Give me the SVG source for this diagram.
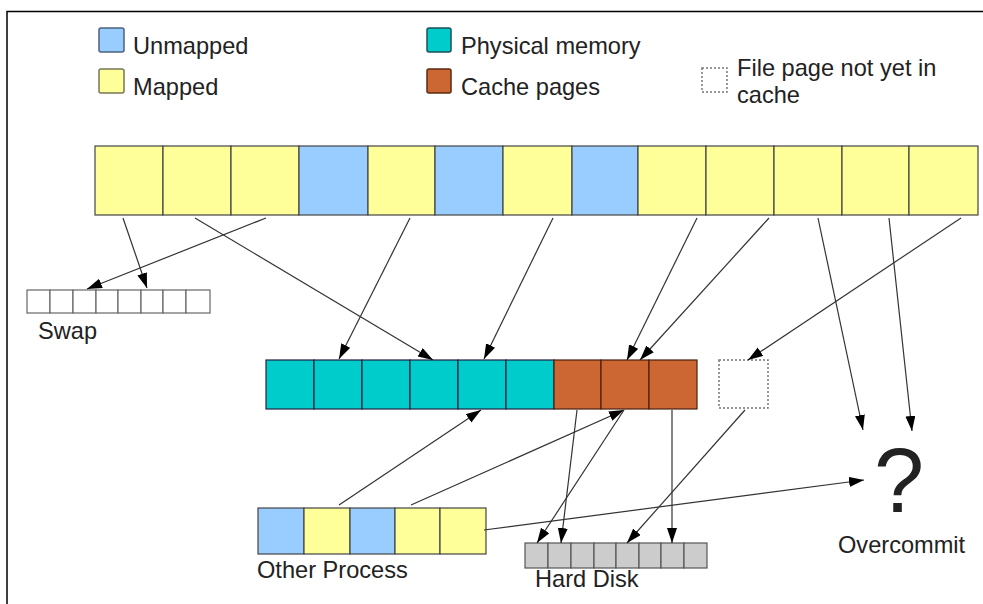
<svg xmlns="http://www.w3.org/2000/svg" width="983" height="604" viewBox="0 0 983 604">
<style>
  text { font-family: "Liberation Sans", Arial, sans-serif; font-size: 23.6px; fill: #222; }
  .y { fill: #ffff99; stroke: #444; stroke-width: 1.2; }
  .b { fill: #99ccff; stroke: #444; stroke-width: 1.2; }
  .t { fill: #00cccc; stroke: #224; stroke-width: 1.2; }
  .o { fill: #cc6633; stroke: #4a2010; stroke-width: 1.2; }
  .w { fill: #ffffff; stroke: #666; stroke-width: 1.2; }
  .g { fill: #cccccc; stroke: #555; stroke-width: 1.2; }
  .dot { fill: #ffffff; stroke: #777; stroke-width: 1.5; stroke-dasharray: 2 2; }
  .c line { stroke: #333; stroke-width: 1.2; fill: none; marker-end: url(#ah); }
</style>
<defs>
  <marker id="ah" markerUnits="userSpaceOnUse" markerWidth="16" markerHeight="11" refX="15" refY="5" orient="auto">
    <path d="M0,0 L15,5 L0,10 z" fill="#000"/>
  </marker>
</defs>
<rect width="983" height="604" fill="#fff"/>
<path d="M7,604 V11.5 H983" fill="none" stroke="#000" stroke-width="1.5"/>

<g id="legend-unmapped">
  <rect x="99" y="28" width="25" height="24" rx="2" fill="#99ccff" stroke="#4c6078" stroke-width="1.5"/>
  <text x="133" y="54">Unmapped</text>
</g>
<g id="legend-mapped">
  <rect x="99" y="69" width="25" height="24" rx="2" fill="#ffff99" stroke="#777755" stroke-width="1.5"/>
  <text x="133" y="95">Mapped</text>
</g>
<g id="legend-physical">
  <rect x="427" y="28" width="24" height="24" rx="2" fill="#00cccc" stroke="#1f4f55" stroke-width="1.5"/>
  <text x="461" y="54">Physical memory</text>
</g>
<g id="legend-cache">
  <rect x="427" y="69" width="24" height="24" rx="2" fill="#cc6633" stroke="#5a2a10" stroke-width="1.5"/>
  <text x="461" y="95">Cache pages</text>
</g>
<g id="legend-file">
  <rect x="702" y="68" width="25" height="24" class="dot"/>
  <text x="737" y="76">File page not yet in</text>
  <text x="737" y="103">cache</text>
</g>

<g id="process">
  <rect class="y" x="95" y="146" width="68" height="69"/>
  <rect class="y" x="163" y="146" width="68" height="69"/>
  <rect class="y" x="231" y="146" width="68" height="69"/>
  <rect class="b" x="299" y="146" width="69" height="69"/>
  <rect class="y" x="368" y="146" width="67" height="69"/>
  <rect class="b" x="435" y="146" width="68" height="69"/>
  <rect class="y" x="503" y="146" width="69" height="69"/>
  <rect class="b" x="572" y="146" width="66" height="69"/>
  <rect class="y" x="638" y="146" width="68" height="69"/>
  <rect class="y" x="706" y="146" width="68" height="69"/>
  <rect class="y" x="774" y="146" width="68" height="69"/>
  <rect class="y" x="842" y="146" width="67" height="69"/>
  <rect class="y" x="909" y="146" width="69" height="69"/>
</g>

<g id="swap">
  <rect class="w" x="27" y="290" width="23" height="23"/>
  <rect class="w" x="50" y="290" width="23" height="23"/>
  <rect class="w" x="73" y="290" width="23" height="23"/>
  <rect class="w" x="96" y="290" width="22" height="23"/>
  <rect class="w" x="118" y="290" width="23" height="23"/>
  <rect class="w" x="141" y="290" width="22" height="23"/>
  <rect class="w" x="163" y="290" width="23" height="23"/>
  <rect class="w" x="186" y="290" width="24" height="23"/>
  <text x="38" y="339">Swap</text>
</g>

<g id="physical-memory">
  <rect class="t" x="266" y="360" width="48" height="49"/>
  <rect class="t" x="314" y="360" width="48" height="49"/>
  <rect class="t" x="362" y="360" width="48" height="49"/>
  <rect class="t" x="410" y="360" width="48" height="49"/>
  <rect class="t" x="458" y="360" width="48" height="49"/>
  <rect class="t" x="506" y="360" width="48" height="49"/>
  <rect class="o" x="554" y="360" width="47" height="49"/>
  <rect class="o" x="601" y="360" width="48" height="49"/>
  <rect class="o" x="649" y="360" width="48" height="49"/>
</g>

<g id="file-page">
  <rect class="dot" x="719" y="360" width="49" height="48"/>
</g>

<g id="other-process">
  <rect class="b" x="258" y="508" width="46" height="46"/>
  <rect class="y" x="304" y="508" width="46" height="46"/>
  <rect class="b" x="350" y="508" width="45" height="46"/>
  <rect class="y" x="395" y="508" width="45" height="46"/>
  <rect class="y" x="440" y="508" width="46" height="46"/>
  <text x="257" y="578">Other Process</text>
</g>

<g id="hard-disk">
  <rect class="g" x="525" y="543" width="23" height="25"/>
  <rect class="g" x="548" y="543" width="23" height="25"/>
  <rect class="g" x="571" y="543" width="23" height="25"/>
  <rect class="g" x="594" y="543" width="22" height="25"/>
  <rect class="g" x="616" y="543" width="23" height="25"/>
  <rect class="g" x="639" y="543" width="22" height="25"/>
  <rect class="g" x="661" y="543" width="23" height="25"/>
  <rect class="g" x="684" y="543" width="23" height="25"/>
  <text x="535" y="587">Hard Disk</text>
</g>

<g id="overcommit">
  <text x="899" y="512" text-anchor="middle" style="font-size:90px">?</text>
  <text x="838" y="553">Overcommit</text>
</g>

<g id="connectors" class="c">
  <line x1="123" y1="218" x2="147" y2="288"/>
  <line x1="266" y1="218" x2="87" y2="289"/>
  <line x1="195" y1="218" x2="433" y2="360"/>
  <line x1="410" y1="218" x2="339" y2="359"/>
  <line x1="553" y1="218" x2="484" y2="359"/>
  <line x1="697" y1="218" x2="627" y2="360"/>
  <line x1="769" y1="218" x2="640" y2="360"/>
  <line x1="818" y1="218" x2="863" y2="430"/>
  <line x1="889" y1="218" x2="912" y2="431"/>
  <line x1="961" y1="218" x2="748" y2="360"/>
  <line x1="339" y1="505" x2="481" y2="410"/>
  <line x1="411" y1="505" x2="624" y2="410"/>
  <line x1="577" y1="410" x2="561" y2="543"/>
  <line x1="624" y1="410" x2="537" y2="543"/>
  <line x1="672" y1="410" x2="672" y2="543"/>
  <line x1="745" y1="410" x2="627" y2="543"/>
  <line x1="484" y1="530" x2="864" y2="480"/>
</g>
</svg>
